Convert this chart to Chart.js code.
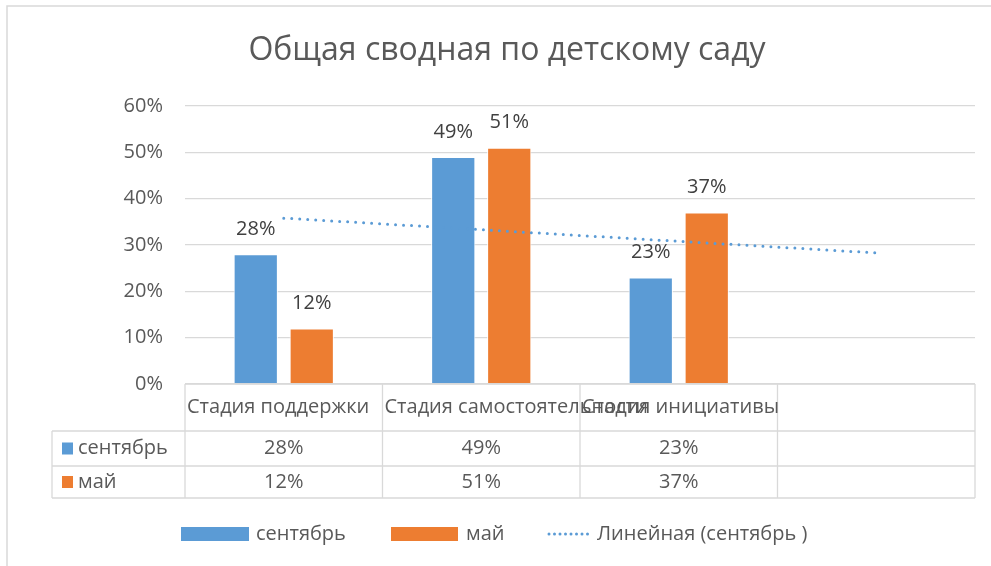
<!DOCTYPE html>
<html>
<head>
<meta charset="utf-8">
<script src="https://cdn.jsdelivr.net/npm/chart.js@4/dist/chart.umd.min.js"></script>
<style>
  html, body { margin: 0; padding: 0; background: #fff; }
  #wrap { width: 991px; height: 566px; position: relative; }
</style>
</head>
<body>
<div id="wrap"><canvas id="chart"></canvas></div>
<script>
// chart data
const categories = ['Стадия поддержки', 'Стадия самостоятельности', 'Стадия инициативы', ''];
const seriesNames = ['сентябрь', 'май'];
const septemberValues = [28, 49, 23, null];
const mayValues = [12, 51, 37, null];
const trendName = 'Линейная (сентябрь )';
const trendValues = [35.8, 33.3, 30.8, 28.3];
const yTicks = [0, 10, 20, 30, 40, 50, 60];
const title = 'Общая сводная по детскому саду';

const BLUE = '#5B9BD5';
const ORANGE = '#ED7D31';
const GRID = '#d9d9d9';
const TEXT = '#595959';
const FONT = '"Open Sans", "Noto Sans", sans-serif';

const extras = {
    id: 'extras',
    afterDatasetsDraw(chart) {
        const ctx = chart.ctx;
        ctx.save();
        ctx.font = '20px ' + FONT;
        ctx.fillStyle = '#404040';
        ctx.textAlign = 'center';
        ctx.textBaseline = 'middle';
        [0, 1].forEach(i => {
            const meta = chart.getDatasetMeta(i);
            meta.data.forEach((bar, j) => {
                const v = chart.data.datasets[i].data[j];
                if (v == null) return;
                ctx.fillText(v + '%', bar.x, bar.y - 25);
            });
        });
        ctx.restore();
    },
    afterDraw(chart) {
        const ctx = chart.ctx;
        const x = chart.scales.x;
        const area = chart.chartArea;
        const slot = (area.right - area.left) / categories.length;
        const rows = [area.bottom, 431, 466, 498];
        const labelLeft = 52;

        ctx.save();
        // outer frame
        ctx.strokeStyle = GRID;
        ctx.lineWidth = 1.5;
        ctx.beginPath();
        ctx.moveTo(7, 566);
        ctx.lineTo(7, 6);
        ctx.lineTo(991, 6);
        ctx.stroke();

        // title
        ctx.fillStyle = TEXT;
        ctx.font = '32px ' + FONT;
        ctx.textAlign = 'center';
        ctx.textBaseline = 'middle';
        ctx.fillText(title, 507, 51);

        // data table grid
        ctx.strokeStyle = GRID;
        ctx.lineWidth = 1.3;
        ctx.beginPath();
        ctx.moveTo(area.left, rows[0]);
        ctx.lineTo(area.right, rows[0]);
        for (let r = 1; r < rows.length; r++) {
            ctx.moveTo(labelLeft, rows[r]);
            ctx.lineTo(area.right, rows[r]);
        }
        for (let c = 0; c <= categories.length; c++) {
            const cx = area.left + c * slot;
            ctx.moveTo(cx, rows[0]);
            ctx.lineTo(cx, rows[3]);
        }
        ctx.moveTo(labelLeft, rows[1]);
        ctx.lineTo(labelLeft, rows[3]);
        ctx.stroke();

        // category headers (left aligned, overlapping like the original)
        ctx.font = '20px ' + FONT;
        ctx.textAlign = 'left';
        categories.forEach((c, i) => {
            ctx.fillText(c, area.left + i * slot + 2, (rows[0] + rows[1]) / 2);
        });

        // series rows
        const seriesData = [septemberValues, mayValues];
        const colors = [BLUE, ORANGE];
        seriesData.forEach((vals, r) => {
            const cy = (rows[r + 1] + rows[r + 2]) / 2;
            ctx.fillStyle = colors[r];
            ctx.fillRect(62, cy - 6, 11, 12);
            ctx.fillStyle = TEXT;
            ctx.textAlign = 'left';
            ctx.fillText(seriesNames[r], 78, cy);
            ctx.textAlign = 'center';
            vals.forEach((v, i) => {
                if (v == null) return;
                ctx.fillText(v + '%', x.getPixelForValue(i), cy);
            });
        });

        // legend
        const ly = 534;
        ctx.font = '20px ' + FONT;
        ctx.textAlign = 'left';
        ctx.fillStyle = BLUE;
        ctx.fillRect(181, ly - 7, 68, 14);
        ctx.fillStyle = TEXT;
        ctx.fillText(seriesNames[0], 256, ly);
        ctx.fillStyle = ORANGE;
        ctx.fillRect(391, ly - 7, 67, 14);
        ctx.fillStyle = TEXT;
        ctx.fillText(seriesNames[1], 466, ly);
        ctx.strokeStyle = BLUE;
        ctx.lineWidth = 3;
        ctx.lineCap = 'round';
        ctx.setLineDash([0, 5.5]);
        ctx.beginPath();
        ctx.moveTo(549, ly);
        ctx.lineTo(591, ly);
        ctx.stroke();
        ctx.setLineDash([]);
        ctx.fillText(trendName, 597, ly);
        ctx.restore();
    }
};

new Chart(document.getElementById('chart'), {
    type: 'bar',
    data: {
        labels: categories,
        datasets: [
            {
                label: seriesNames[0],
                data: septemberValues,
                backgroundColor: BLUE,
                borderColor: '#ffffff',
                borderWidth: 1,
                barPercentage: 0.79,
                categoryPercentage: 0.567,
                order: 2
            },
            {
                label: seriesNames[1],
                data: mayValues,
                backgroundColor: ORANGE,
                borderColor: '#ffffff',
                borderWidth: 1,
                barPercentage: 0.79,
                categoryPercentage: 0.567,
                order: 2
            },
            {
                type: 'line',
                label: trendName,
                data: trendValues,
                borderColor: BLUE,
                borderWidth: 3,
                borderDash: [0, 8],
                borderCapStyle: 'round',
                pointRadius: 0,
                fill: false,
                order: 1
            }
        ]
    },
    options: {
        responsive: true,
        maintainAspectRatio: false,
        animation: false,
        layout: { padding: { top: 106, right: 16, bottom: 182, left: 0 } },
        plugins: {
            legend: { display: false },
            tooltip: { enabled: false }
        },
        scales: {
            x: { display: false, offset: true },
            y: {
                min: 0,
                max: 60,
                afterBuildTicks: (scale) => {
                    scale.ticks = yTicks.map(v => ({ value: v }));
                },
                afterFit: (scale) => { scale.width = 185; },
                border: { display: false },
                grid: { color: GRID, lineWidth: 1.3, drawTicks: false },
                ticks: {
                    padding: 22,
                    color: TEXT,
                    font: { family: FONT, size: 20 },
                    callback: (v) => v + '%'
                }
            }
        }
    },
    plugins: [extras]
});
</script>
</body>
</html>
